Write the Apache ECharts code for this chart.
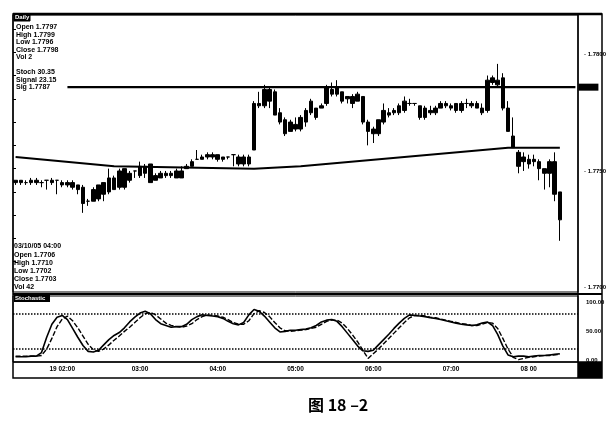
<!DOCTYPE html>
<html><head><meta charset="utf-8">
<script src="https://cdn.jsdelivr.net/npm/echarts@6/dist/echarts.min.js"></script>
<style>html,body{margin:0;padding:0;background:#fff}#c{width:616px;height:425px}</style>
</head><body><div id="c"></div>
<script>
// ---- data ----
// each bar: [open, close, low, high]
const ohlc = [
[1.7745,1.7746,1.7744,1.7746],[1.7746,1.7745,1.7744,1.7746],[1.7745,1.7745,1.7744,1.7746],[1.7745,1.7746,1.7744,1.7747],
[1.7746,1.7745,1.7744,1.7747],[1.7745,1.7745,1.7743,1.7746],[1.7746,1.7746,1.7742,1.7746],[1.7746,1.7745,1.7744,1.7747],
[1.7746,1.7746,1.7740,1.7746],[1.7745,1.7744,1.7743,1.7746],[1.7744,1.7745,1.7743,1.7746],[1.7745,1.7743,1.7742,1.7746],
[1.7744,1.7742,1.7740,1.7744],[1.7743,1.7736,1.7732,1.7744],[1.7737,1.7737,1.7735,1.7738],[1.7737,1.7742,1.7737,1.7743],
[1.7738,1.7744,1.7737,1.7744],[1.7740,1.7745,1.7737,1.7745],[1.7741,1.7747,1.7740,1.7751],[1.7742,1.7747,1.7742,1.7748],
[1.7743,1.7750,1.7742,1.7751],[1.7743,1.7751,1.7742,1.7751],[1.7746,1.7749,1.7745,1.7750],[1.7750,1.7750,1.7747,1.7750],
[1.7748,1.7752,1.7747,1.7754],[1.7752,1.7749,1.7747,1.7753],[1.7753,1.7745,1.7745,1.7753],[1.7746,1.7748,1.7746,1.7749],
[1.7747,1.7749,1.7747,1.7750],[1.7748,1.7749,1.7747,1.7750],[1.7749,1.7748,1.7747,1.7750],[1.7747,1.7750,1.7747,1.7751],
[1.7747,1.7750,1.7747,1.7752],[1.7751,1.7752,1.7751,1.7753],[1.7752,1.7754,1.7752,1.7755],[1.7755,1.7755,1.7755,1.7759],
[1.7756,1.7755,1.7755,1.7757],[1.7756,1.7757,1.7755,1.7758],[1.7757,1.7756,1.7755,1.7758],[1.7757,1.7755,1.7754,1.7757],
[1.7755,1.7756,1.7754,1.7756],[1.7756,1.7756,1.7755,1.7756],[1.7757,1.7757,1.7752,1.7757],[1.7753,1.7756,1.7752,1.7757],
[1.7756,1.7753,1.7752,1.7757],[1.7753,1.7756,1.7752,1.7757],[1.7759,1.7779,1.7759,1.7780],[1.7779,1.7778,1.7777,1.7784],
[1.7778,1.7785,1.7777,1.7787],[1.7785,1.7780,1.7777,1.7786],[1.7784,1.7774,1.7774,1.7785],[1.7775,1.7771,1.7770,1.7777],
[1.7772,1.7766,1.7765,1.7773],[1.7767,1.7771,1.7767,1.7772],[1.7770,1.7768,1.7767,1.7773],[1.7768,1.7773,1.7767,1.7774],
[1.7771,1.7776,1.7769,1.7777],[1.7775,1.7780,1.7774,1.7781],[1.7777,1.7773,1.7772,1.7777],[1.7777,1.7778,1.7777,1.7779],
[1.7779,1.7786,1.7778,1.7787],[1.7785,1.7783,1.7782,1.7788],[1.7783,1.7786,1.7782,1.7789],[1.7784,1.7780,1.7779,1.7784],
[1.7781,1.7782,1.7779,1.7782],[1.7782,1.7779,1.7777,1.7783],[1.7780,1.7783,1.7780,1.7784],[1.7782,1.7771,1.7770,1.7782],
[1.7771,1.7767,1.7761,1.7772],[1.7766,1.7768,1.7762,1.7769],[1.7766,1.7772,1.7765,1.7772],[1.7771,1.7776,1.7770,1.7779],
[1.7774,1.7775,1.7773,1.7777],[1.7775,1.7776,1.7774,1.7777],[1.7775,1.7778,1.7774,1.7779],[1.7776,1.7780,1.7775,1.7782],
[1.7779,1.7779,1.7778,1.7781],[1.7779,1.7779,1.7778,1.7779],[1.7778,1.7773,1.7772,1.7778],[1.7773,1.7777,1.7772,1.7778],
[1.7776,1.7775,1.7774,1.7778],[1.7775,1.7777,1.7774,1.7778],[1.7777,1.7779,1.7777,1.7780],[1.7779,1.7778,1.7777,1.7780],
[1.7778,1.7777,1.7776,1.7779],[1.7779,1.7776,1.7775,1.7779],[1.7776,1.7779,1.7775,1.7780],[1.7779,1.7779,1.7777,1.7781],
[1.7779,1.7778,1.7777,1.7780],[1.7779,1.7777,1.7777,1.7780],[1.7777,1.7775,1.7774,1.7779],[1.7776,1.7789,1.7775,1.7791],
[1.7788,1.7790,1.7787,1.7791],[1.7789,1.7787,1.7786,1.7796],[1.7790,1.7777,1.7776,1.7792],[1.7777,1.7767,1.7767,1.7780],
[1.7765,1.7760,1.7760,1.7773],[1.7758,1.7752,1.7749,1.7759],[1.7756,1.7754,1.7750,1.7758],[1.7755,1.7753,1.7751,1.7757],
[1.7755,1.7754,1.7752,1.7757],[1.7754,1.7751,1.7746,1.7755],[1.7751,1.7749,1.7742,1.7751],[1.7749,1.7754,1.7743,1.7755],
[1.7754,1.7740,1.7737,1.7758],[1.7741,1.7729,1.7720,1.7741]
];
const stochK = [7,7,7,8,8,14,40,62,74,77,70,55,40,26,16,15,18,27,36,43,48,56,66,74,81,84,80,70,63,60,
57,58,58,62,70,75,78,77,76,75,72,67,63,61,65,78,87,84,76,66,56,49,50,52,52,53,54,56,60,66,
69,70,67,58,47,36,25,17,16,18,27,36,45,55,64,72,78,77,76,75,73,72,70,68,66,64,62,61,60,61,
64,66,60,45,25,10,7,8,8,7,8,9,9,10,11,12];
const stochD = [8,8,8,8,8,9,20,38,58,71,76,68,56,42,28,19,16,20,27,35,42,50,57,65,73,80,82,78,71,64,
60,58,57,59,63,70,75,78,77,76,74,70,65,62,62,68,80,85,82,75,65,56,51,50,51,52,53,55,57,62,
67,69,69,64,55,44,32,18,4,12,20,29,38,47,56,65,73,77,77,76,74,73,71,69,67,65,63,62,60,60,
62,65,64,55,38,20,6,2,4,6,7,8,9,9,10,11];
const trendLine = [[0,1.7756],[19,1.7752],[46,1.7751],[55,1.7752],[95,1.7760],[105,1.7760]];
const resistanceLevel = 1.7786;
const resistanceFrom = 10;
const priceTicks = [1.7700, 1.7750, 1.7800];
const leftTicks = [1.7711,1.7721,1.7731,1.7741,1.7751,1.7761,1.7771,1.7781,1.7791,1.7801,1.7811];
const stochTicks = [0, 50, 100];
const stochLevels = [80, 20];
const timeLabels = ['19 02:00','03:00','04:00','05:00','06:00','07:00','08 00'];
const timeLabelIdx = [9,24,39,54,69,84,99];
const barCount = 109;
const infoTop = ['Open 1.7797','High 1.7799','Low 1.7796','Close 1.7798','Vol 2'];
const infoStoch = ['Stoch 30.35','Signal 23.15','Sig 1.7787'];
const infoBar = ['03/10/05 04:00','Open 1.7706','High 1.7710','Low 1.7702','Close 1.7703','Vol 42'];
const caption = '图 18 –2';

const categories = Array.from({length: barCount}, (_, i) => 'B' + i);
const chart = echarts.init(document.getElementById('c'), null, {renderer: 'canvas'});
const F = 'Liberation Sans';
function textLines(lines, x, y0, dy, size) {
  return lines.map((t, i) => ({type: 'text', left: x, top: y0 + i * dy,
    style: {text: t, font: 'bold ' + size + 'px ' + F, fill: '#000'}}));
}
const graphics = [
  {type: 'rect', shape: {x: 13, y: 14, width: 589, height: 364}, style: {fill: null, stroke: '#000', lineWidth: 1.5}},
  {type: 'line', shape: {x1: 13, y1: 14, x2: 602, y2: 14}, style: {stroke: '#000', lineWidth: 2.5}},
  {type: 'line', shape: {x1: 578, y1: 14, x2: 578, y2: 378}, style: {stroke: '#000', lineWidth: 1.5}},
  {type: 'line', shape: {x1: 13, y1: 294, x2: 602, y2: 294}, style: {stroke: '#000', lineWidth: 2}},
  {type: 'line', shape: {x1: 13, y1: 362, x2: 602, y2: 362}, style: {stroke: '#000', lineWidth: 1.5}},
  {type: 'rect', shape: {x: 578, y: 362, width: 24, height: 16}, style: {fill: '#000'}},
  {type: 'rect', shape: {x: 14, y: 14, width: 16, height: 7}, style: {fill: '#000', stroke: '#000'}},
  {type: 'text', left: 15, top: 14, style: {text: 'Daily', font: 'bold 6px ' + F, fill: '#fff'}},
  {type: 'rect', shape: {x: 14, y: 295, width: 36, height: 7}, style: {fill: '#000'}},
  {type: 'text', left: 15, top: 295, style: {text: 'Stochastic', font: 'bold 6px ' + F, fill: '#fff'}},
  {type: 'text', left: 308, top: 397, style: {text: caption, font: 'bold 16px "Noto Sans CJK SC"', fill: '#000', align: 'center'}},
  ...textLines(infoTop, 16, 24, 7.4, 7),
  ...textLines(infoStoch, 16, 69, 7.4, 7),
  ...textLines(infoBar, 14, 243, 8.2, 7)
];

chart.setOption({
  backgroundColor: '#fff',
  animation: false,
  grid: [
    {left: 13, top: 15, width: 565, height: 277, show: true, borderColor: '#000', borderWidth: 1},
    {left: 13, top: 296, width: 565, height: 66, show: true, borderColor: '#000', borderWidth: 1}
  ],
  xAxis: [
    {type: 'category', gridIndex: 0, data: categories, boundaryGap: true,
      axisLine: {show: false}, axisTick: {show: false}, axisLabel: {show: false}, splitLine: {show: false}},
    {type: 'category', gridIndex: 1, data: categories, boundaryGap: true,
      axisLine: {show: false}, axisTick: {show: false}, splitLine: {show: false},
      axisLabel: {interval: (i) => timeLabelIdx.includes(i), margin: 4,
        formatter: (v, i) => timeLabels[timeLabelIdx.indexOf(i)] || '',
        fontSize: 6.5, fontWeight: 'bold', fontFamily: F, color: '#000'}}
  ],
  yAxis: [
    {type: 'value', gridIndex: 0, position: 'right', min: 1.7698, max: 1.7817,
      splitLine: {show: false}, axisLine: {show: false}, axisTick: {show: false},
      axisLabel: {customValues: priceTicks, formatter: (v) => '- ' + v.toFixed(4), margin: 6,
        fontSize: 6, fontWeight: 'bold', fontFamily: F, color: '#000'}},
    {type: 'value', gridIndex: 0, position: 'left', min: 1.7698, max: 1.7817,
      splitLine: {show: false}, axisLine: {show: false}, axisLabel: {show: false},
      axisTick: {show: true, inside: true, length: 3, customValues: leftTicks, lineStyle: {color: '#000', width: 1}}},
    {type: 'value', gridIndex: 1, position: 'right', min: -2, max: 110,
      splitLine: {show: false}, axisLine: {show: false}, axisTick: {show: false},
      axisLabel: {customValues: stochTicks, formatter: (v) => v.toFixed(2), margin: 8,
        fontSize: 6, fontWeight: 'bold', fontFamily: F, color: '#000'}}
  ],
  graphic: graphics,
  series: [
    {type: 'candlestick', xAxisIndex: 0, yAxisIndex: 0, data: ohlc, barWidth: 4,
      itemStyle: {color: '#000', color0: '#000', borderColor: '#000', borderColor0: '#000', borderWidth: 1}},
    {type: 'line', xAxisIndex: 0, yAxisIndex: 0, data: trendLine, symbol: 'none', silent: true,
      lineStyle: {color: '#000', width: 2}},
    {type: 'line', xAxisIndex: 0, yAxisIndex: 0, symbol: 'none', silent: true,
      data: [[resistanceFrom, resistanceLevel], [barCount - 1, resistanceLevel]],
      lineStyle: {color: '#000', width: 2.2},
      endLabel: {show: true, formatter: resistanceLevel.toFixed(4), distance: 3, backgroundColor: '#000',
        color: '#000', fontSize: 6, width: 20, height: 7, padding: [0, 0, 0, 0]}},
    {type: 'line', xAxisIndex: 1, yAxisIndex: 2, data: stochK, symbol: 'none', silent: true,
      lineStyle: {color: '#000', width: 1.6},
      markLine: {silent: true, symbol: 'none', label: {show: false},
        lineStyle: {color: '#000', type: 'dotted', width: 1.5},
        data: stochLevels.map(v => ({yAxis: v}))}},
    {type: 'line', xAxisIndex: 1, yAxisIndex: 2, data: stochD, symbol: 'none', silent: true,
      lineStyle: {color: '#000', width: 1.4, type: [5, 2]}}
  ]
});
</script></body></html>
